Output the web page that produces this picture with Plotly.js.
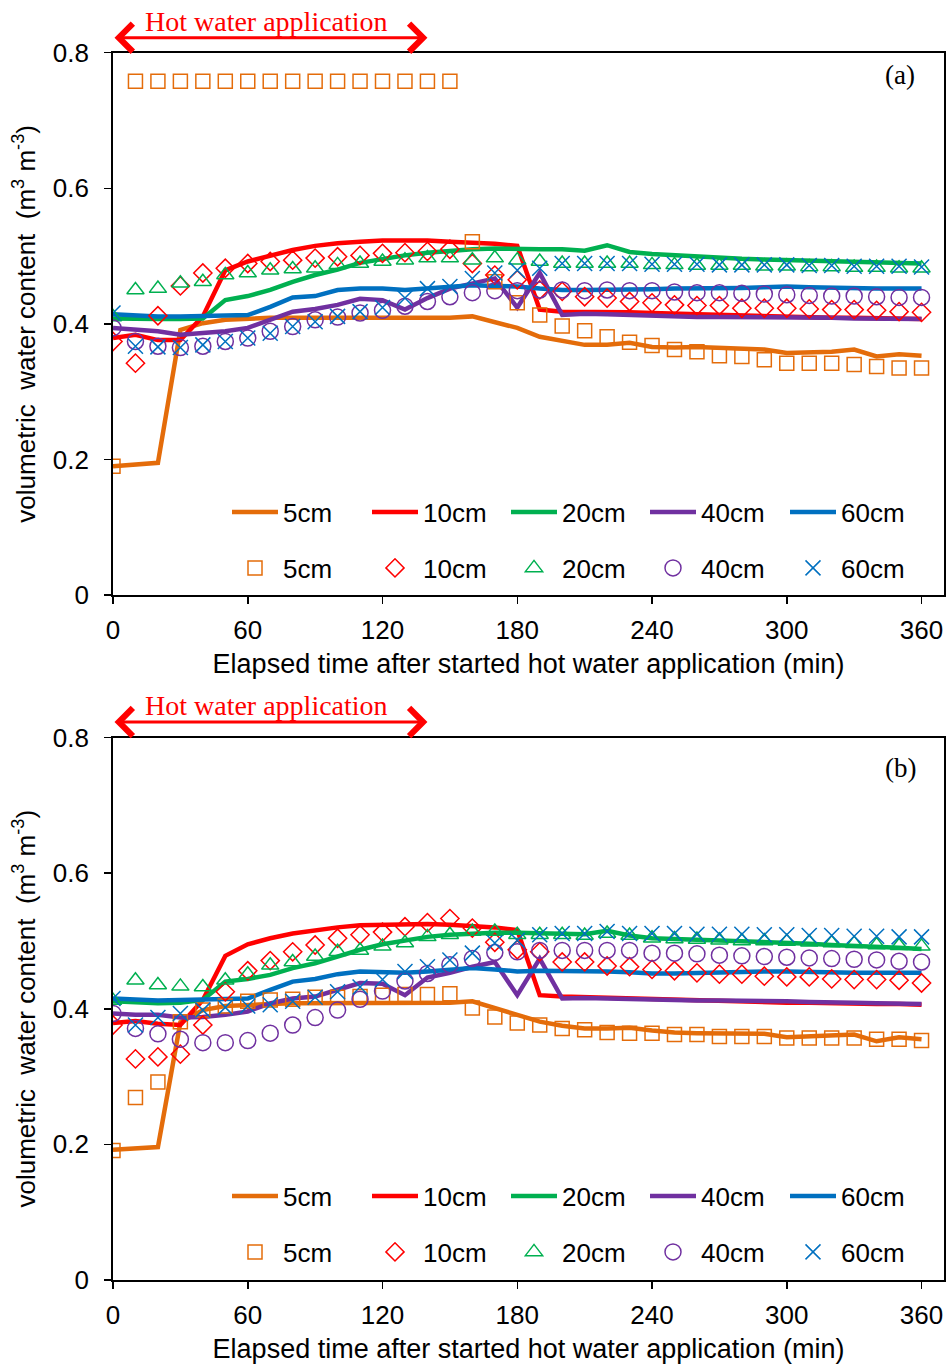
<!DOCTYPE html>
<html>
<head>
<meta charset="utf-8">
<script src="https://cdn.plot.ly/plotly-3.0.1.min.js"></script>
<style>html,body{margin:0;padding:0;background:#fff;}#chart{width:950px;height:1367px;}</style>
</head>
<body>
<div id="chart"></div>
<script>
// elapsed time (min)
const TIME = [0,10,20,30,40,50,60,70,80,90,100,110,120,130,140,150,160,170,180,190,200,210,220,230,240,250,260,270,280,290,300,310,320,330,340,350,360];
const DEPTHS = ['5cm','10cm','20cm','40cm','60cm'];
const HOT_START = 0, HOT_END = 140;

// ---- panel (a): lines ----
const A_L5  = [0.190,0.193,0.195,0.391,0.401,0.406,0.408,0.409,0.409,0.409,0.409,0.409,0.409,0.409,0.409,0.409,0.411,0.403,0.394,0.381,0.375,0.369,0.369,0.372,0.366,0.365,0.366,0.365,0.364,0.362,0.357,0.358,0.359,0.362,0.352,0.355,0.353];
const A_L10 = [0.379,0.384,0.376,0.376,0.411,0.479,0.492,0.501,0.509,0.515,0.519,0.521,0.523,0.523,0.523,0.521,0.520,0.518,0.515,0.421,0.418,0.418,0.417,0.417,0.416,0.415,0.414,0.413,0.412,0.411,0.410,0.410,0.409,0.409,0.408,0.408,0.407];
const A_L20 = [0.408,0.407,0.407,0.407,0.408,0.435,0.441,0.450,0.462,0.472,0.480,0.490,0.496,0.501,0.505,0.508,0.510,0.511,0.510,0.510,0.510,0.508,0.516,0.506,0.503,0.501,0.500,0.498,0.496,0.495,0.494,0.493,0.492,0.492,0.491,0.490,0.489];
const A_L40 = [0.394,0.392,0.389,0.384,0.386,0.389,0.394,0.406,0.418,0.422,0.428,0.437,0.435,0.421,0.438,0.452,0.460,0.467,0.424,0.475,0.413,0.415,0.414,0.413,0.411,0.411,0.410,0.410,0.410,0.410,0.410,0.409,0.409,0.408,0.408,0.407,0.407];
const A_L60 = [0.414,0.412,0.411,0.411,0.412,0.413,0.413,0.425,0.439,0.441,0.450,0.452,0.452,0.450,0.452,0.455,0.457,0.456,0.455,0.452,0.450,0.450,0.450,0.450,0.451,0.452,0.452,0.453,0.453,0.454,0.455,0.454,0.453,0.453,0.452,0.452,0.452];
// ---- panel (a): markers ----
const A_M5  = [0.190,0.758,0.758,0.758,0.758,0.758,0.758,0.758,0.758,0.758,0.758,0.758,0.758,0.758,0.758,0.758,0.521,0.462,0.431,0.413,0.397,0.390,0.381,0.373,0.368,0.362,0.359,0.353,0.352,0.347,0.342,0.342,0.342,0.340,0.337,0.335,0.335];
const A_M10 = [0.374,0.342,0.412,0.456,0.475,0.482,0.489,0.492,0.494,0.497,0.499,0.501,0.504,0.505,0.507,0.510,0.489,0.472,0.465,0.450,0.448,0.440,0.438,0.433,0.431,0.428,0.427,0.427,0.423,0.423,0.423,0.422,0.421,0.421,0.420,0.418,0.417];
const A_M20 = [0.410,0.450,0.452,0.460,0.462,0.472,0.475,0.479,0.481,0.482,0.487,0.489,0.492,0.494,0.497,0.497,0.494,0.497,0.494,0.492,0.489,0.489,0.489,0.489,0.487,0.487,0.486,0.486,0.486,0.485,0.485,0.484,0.484,0.483,0.483,0.482,0.482];
const A_M40 = [0.394,0.374,0.367,0.365,0.367,0.374,0.379,0.389,0.396,0.406,0.410,0.416,0.420,0.426,0.433,0.440,0.446,0.449,0.449,0.450,0.450,0.449,0.450,0.449,0.449,0.447,0.446,0.446,0.445,0.444,0.443,0.442,0.441,0.441,0.440,0.439,0.439];
const A_M60 = [0.416,0.367,0.366,0.365,0.369,0.374,0.379,0.386,0.396,0.403,0.411,0.418,0.424,0.438,0.452,0.455,0.467,0.475,0.479,0.482,0.489,0.489,0.489,0.489,0.488,0.488,0.488,0.487,0.487,0.487,0.487,0.486,0.486,0.485,0.485,0.485,0.484];

// ---- panel (b): lines ----
const B_L5  = [0.192,0.194,0.196,0.380,0.398,0.404,0.406,0.407,0.408,0.408,0.408,0.408,0.408,0.408,0.409,0.409,0.411,0.401,0.391,0.381,0.375,0.371,0.371,0.372,0.368,0.365,0.364,0.364,0.364,0.363,0.358,0.359,0.361,0.362,0.352,0.358,0.355];
const B_L10 = [0.379,0.382,0.378,0.376,0.413,0.478,0.495,0.504,0.511,0.516,0.520,0.523,0.524,0.525,0.525,0.524,0.522,0.520,0.516,0.420,0.418,0.417,0.416,0.415,0.414,0.413,0.412,0.411,0.410,0.410,0.409,0.409,0.408,0.408,0.407,0.407,0.406];
const B_L20 = [0.411,0.410,0.408,0.409,0.413,0.440,0.444,0.450,0.460,0.467,0.477,0.487,0.495,0.501,0.506,0.509,0.511,0.512,0.512,0.511,0.510,0.510,0.515,0.508,0.504,0.503,0.502,0.500,0.499,0.498,0.497,0.496,0.494,0.493,0.491,0.490,0.488];
const B_L40 = [0.393,0.391,0.391,0.387,0.388,0.391,0.396,0.408,0.415,0.418,0.428,0.438,0.437,0.420,0.446,0.453,0.462,0.469,0.420,0.474,0.415,0.416,0.415,0.414,0.414,0.413,0.412,0.412,0.412,0.411,0.411,0.410,0.410,0.409,0.408,0.408,0.407];
const B_L60 = [0.415,0.413,0.412,0.413,0.414,0.415,0.415,0.428,0.440,0.444,0.451,0.455,0.454,0.453,0.455,0.457,0.460,0.458,0.455,0.456,0.456,0.455,0.455,0.454,0.452,0.452,0.453,0.453,0.454,0.455,0.455,0.454,0.454,0.453,0.453,0.453,0.453];
// ---- panel (b): markers ----
const B_M5  = [0.191,0.269,0.292,0.381,0.398,0.404,0.411,0.413,0.414,0.417,0.417,0.418,0.420,0.421,0.421,0.422,0.401,0.388,0.379,0.376,0.371,0.369,0.365,0.364,0.364,0.362,0.362,0.359,0.359,0.359,0.357,0.357,0.357,0.357,0.355,0.355,0.353];
const B_M10 = [0.376,0.326,0.329,0.333,0.376,0.425,0.456,0.471,0.484,0.494,0.504,0.509,0.513,0.521,0.527,0.533,0.519,0.498,0.487,0.484,0.469,0.469,0.463,0.462,0.458,0.456,0.453,0.451,0.451,0.448,0.447,0.447,0.444,0.443,0.443,0.442,0.438];
const B_M20 = [0.412,0.442,0.435,0.433,0.432,0.442,0.451,0.464,0.469,0.477,0.484,0.486,0.492,0.497,0.506,0.509,0.514,0.514,0.509,0.509,0.509,0.508,0.511,0.508,0.504,0.503,0.502,0.501,0.500,0.500,0.499,0.498,0.497,0.496,0.494,0.493,0.492];
const B_M40 = [0.393,0.371,0.363,0.355,0.350,0.350,0.353,0.364,0.376,0.387,0.398,0.414,0.426,0.441,0.452,0.465,0.474,0.483,0.484,0.486,0.486,0.486,0.486,0.486,0.482,0.482,0.481,0.479,0.478,0.477,0.476,0.475,0.474,0.473,0.472,0.470,0.469];
const B_M60 = [0.415,0.376,0.387,0.393,0.398,0.402,0.404,0.406,0.411,0.417,0.425,0.432,0.443,0.455,0.462,0.472,0.482,0.497,0.501,0.509,0.511,0.511,0.514,0.511,0.511,0.511,0.510,0.510,0.510,0.509,0.509,0.508,0.508,0.507,0.507,0.506,0.506];

const X_TICKS = [0,60,120,180,240,300,360];
const Y_TICKS = [0,0.2,0.4,0.6,0.8];
const Y_TICKTEXT = ['0','0.2','0.4','0.6','0.8'];
const PANEL_LABELS = ['(a)','(b)'];

const COLORS = ['#E46C0A','#FF0000','#00B050','#7030A0','#0070C0'];
const SYMBOLS = ['square-open','diamond-open','triangle-up-open','circle-open','x-thin-open'];
const MSIZES = [14,14,15,16,15];

const SANS = 'Arial, "Liberation Sans", sans-serif';
const SERIF = '"Times New Roman", "Liberation Serif", serif';

// geometry (pixels -> paper)
const W = 950, H = 1367, ML = 113, MR = 6, MT = 10, MB = 10;
const PH = H - MT - MB;
const py = v => (H - MB - v) / PH;
const px = v => (v - ML) / (W - ML - MR);

// legend layout (pixels): column starts, row centres per panel
const LEG_COLS = [232, 372, 511, 650, 790];
const LEG_ROWS = [[512, 568], [1196, 1252]];
const ITEMW = 46;

const panels = [
  {lines:[A_L5,A_L10,A_L20,A_L40,A_L60], marks:[A_M5,A_M10,A_M20,A_M40,A_M60], xa:'x', ya:'y'},
  {lines:[B_L5,B_L10,B_L20,B_L40,B_L60], marks:[B_M5,B_M10,B_M20,B_M40,B_M60], xa:'x2', ya:'y2'}
];

const traces = [];
const legends = {};
let legN = 0;
function newLegend(col, rowY){
  legN += 1;
  const key = legN === 1 ? 'legend' : 'legend' + legN;
  legends[key] = {orientation: 'v', x: px(LEG_COLS[col] - 5), xanchor: 'left', y: py(rowY), yanchor: 'middle',
    itemwidth: ITEMW, bgcolor: 'rgba(0,0,0,0)', borderwidth: 0, font: {family: SANS, size: 26, color: '#000'},
    itemclick: false, itemdoubleclick: false, tracegroupgap: 0};
  return key;
}
panels.forEach((p, k) => {
  p.lines.forEach((vals, i) => {
    traces.push({x: TIME, y: vals, xaxis: p.xa, yaxis: p.ya, type: 'scatter', mode: 'lines',
      name: DEPTHS[i], legend: newLegend(i, LEG_ROWS[k][0]), line: {color: COLORS[i], width: 4.5}, hoverinfo: 'skip'});
  });
  p.marks.forEach((vals, i) => {
    traces.push({x: TIME, y: vals, xaxis: p.xa, yaxis: p.ya, type: 'scatter', mode: 'markers',
      name: DEPTHS[i], legend: newLegend(i, LEG_ROWS[k][1]),
      marker: {symbol: SYMBOLS[i], size: MSIZES[i], color: COLORS[i], line: {color: COLORS[i], width: 1.5}},
      hoverinfo: 'skip'});
  });
});

const xTitle = 'Elapsed time after started hot water application (min)';
const yTitle = 'volumetric  water content  (m<sup>3</sup> m<sup>-3</sup>)';

function xaxisDef(anchor){
  return {anchor: anchor, domain: [0,1], range: [0,370], tickvals: X_TICKS, ticks: 'outside', ticklen: 7, tickwidth: 1.5,
    tickcolor: '#000', showline: true, linecolor: '#000', linewidth: 1.8, mirror: true, showgrid: false, zeroline: false,
    tickfont: {family: SANS, size: 26, color: '#000'}, ticklabelstandoff: 4,
    title: {text: xTitle, font: {family: SANS, size: 27, color: '#000'}, standoff: 10}};
}
function yaxisDef(anchor, dom){
  return {anchor: anchor, domain: dom, range: [0,0.8], tickvals: Y_TICKS, ticktext: Y_TICKTEXT, ticks: 'outside', ticklen: 7, tickwidth: 1.5,
    tickcolor: '#000', showline: true, linecolor: '#000', linewidth: 1.8, mirror: true, showgrid: false, zeroline: false,
    tickfont: {family: SANS, size: 26, color: '#000'}, ticklabelstandoff: 10,
    title: {text: yTitle, font: {family: SANS, size: 26, color: '#000'}, standoff: 10}};
}

const annotations = [];
const arrowY = [37.7, 722];
const textY = [21, 705];
const labelY = [75, 768];
[['x','y'],['x2','y2']].forEach((ax, k) => {
  annotations.push({xref: ax[0], yref: 'paper', x: HOT_END, y: py(arrowY[k]), axref: ax[0], ayref: 'paper', ax: HOT_START, ay: py(arrowY[k]),
    text: '', showarrow: true, arrowside: 'end+start', arrowhead: 4, startarrowhead: 4, arrowsize: 1.8, startarrowsize: 1.8,
    arrowwidth: 3, arrowcolor: '#FF0000', standoff: 0, startstandoff: 0});
  annotations.push({xref: ax[0], yref: 'paper', x: (HOT_START + HOT_END) / 2, y: py(textY[k]), xanchor: 'center', yanchor: 'middle',
    text: 'Hot water application', showarrow: false, xshift: -4, font: {family: SERIF, size: 28, color: '#FF0000'}});
  annotations.push({xref: 'paper', yref: 'paper', x: px(900), y: py(labelY[k]), xanchor: 'center', yanchor: 'middle',
    text: PANEL_LABELS[k], showarrow: false, font: {family: SERIF, size: 27, color: '#000'}});
});

const layout = Object.assign({
  width: W, height: H, margin: {l: ML, r: MR, t: MT, b: MB, autoexpand: false}, paper_bgcolor: '#fff', plot_bgcolor: '#fff',
  showlegend: true,
  xaxis: xaxisDef('y'),
  yaxis: yaxisDef('x', [py(595), py(52.7)]),
  xaxis2: xaxisDef('y2'),
  yaxis2: yaxisDef('x2', [py(1280), py(737.5)]),
  annotations: annotations
}, legends);

Plotly.newPlot('chart', traces, layout, {displayModeBar: false, staticPlot: true});
</script>
</body>
</html>
